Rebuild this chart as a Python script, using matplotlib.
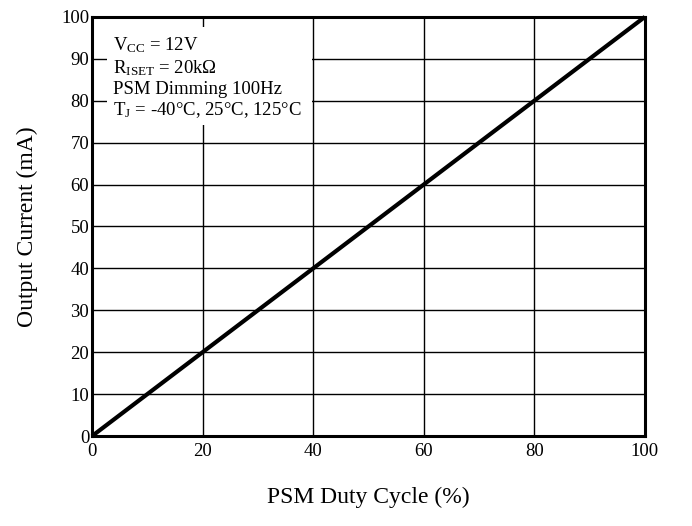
import matplotlib
matplotlib.use("Agg")
import matplotlib.pyplot as plt
from matplotlib.patches import Rectangle

plt.rcParams['font.family'] = ['Liberation Serif', 'DejaVu Serif']
plt.rcParams['mathtext.fontset'] = 'custom'
plt.rcParams['mathtext.rm'] = 'Liberation Serif'
plt.rcParams['mathtext.it'] = 'Liberation Serif:italic'

# data
duty_cycle = [0, 100]
output_current = [0, 100]
x_ticks = [0, 20, 40, 60, 80, 100]
y_ticks = [0, 10, 20, 30, 40, 50, 60, 70, 80, 90, 100]
notes = [r"V$_{\mathrm{CC}}$ = 12V",
         r"R$_{\mathrm{ISET}}$ = 20k$\Omega$",
         "PSM Dimming 100Hz",
         r"T$_{\mathrm{J}}$ = -40°C, 25°C, 125°C"]

fig = plt.figure(figsize=(6.92, 5.26), dpi=100)
ax = fig.add_axes([0.133, 0.171, 0.799, 0.797])

ax.plot(duty_cycle, output_current, color="black", linewidth=3.0,
        solid_capstyle="butt", zorder=3, clip_on=False)

ax.set_xlim(0, 100)
ax.set_ylim(0, 100)
ax.set_xticks(x_ticks)
ax.set_yticks(y_ticks)
ax.tick_params(length=0, labelsize=13.5)
ax.tick_params(axis="x", pad=5)
ax.tick_params(axis="y", pad=2)
ax.grid(True, color="black", linewidth=1.0)
ax.set_axisbelow(True)
for s in ax.spines.values():
    s.set_linewidth(2.2)

ax.set_xlabel("PSM Duty Cycle (%)", fontsize=17, labelpad=19)
ax.set_ylabel("Output Current (mA)", fontsize=17, labelpad=17)

# white patch behind the notes (covers the grid there)
ax.add_patch(Rectangle((0.027, 0.742), 0.371, 0.234, transform=ax.transAxes,
                       facecolor="white", edgecolor="none", zorder=2))
ax.text(0.038, 0.955, "\n".join(notes), transform=ax.transAxes,
        fontsize=13.5, va="top", ha="left", linespacing=1.2, zorder=4)

fig.savefig("out.png", dpi=100)
